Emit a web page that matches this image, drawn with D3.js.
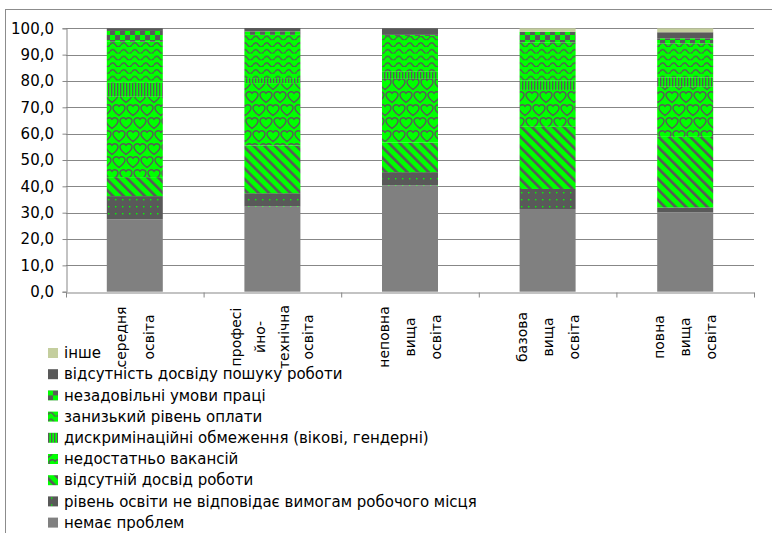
<!DOCTYPE html>
<html>
<head>
<meta charset="utf-8">
<script src="https://cdn.jsdelivr.net/npm/d3@7"></script>
<style>
  body { margin: 0; background: #fff; }
  svg { display: block; }
</style>
</head>
<body>
<div id="chart"></div>
<script>
// categories (x axis), label lines as in the original
const categories = ["середня освіта", "професійно-технічна освіта", "неповна вища освіта", "базова вища освіта", "повна вища освіта"];
const categoryLines = [
  ["середня", "освіта"],
  ["професі", "йно-", "технічна", "освіта"],
  ["неповна", "вища", "освіта"],
  ["базова", "вища", "освіта"],
  ["повна", "вища", "освіта"]
];

// series, bottom to top
const seriesNames = [
  "немає проблем",
  "рівень освіти не відповідає вимогам робочого місця",
  "відсутній досвід роботи",
  "недостатньо вакансій",
  "дискримінаційні обмеження (вікові, гендерні)",
  "занизький рівень оплати",
  "незадовільні умови праці",
  "відсутність досвіду пошуку роботи",
  "інше"
];

const noProblems     = [27.5, 32.3, 40.3, 31.4, 30.1];
const eduMismatch    = [8.8, 5.1, 5.1, 7.6, 1.9];
const noExperience   = [7.2, 18.1, 11.2, 23.6, 26.8];
const fewVacancies   = [30.5, 23.7, 24.2, 14.0, 19.0];
const discrimination = [5.3, 1.9, 2.7, 3.5, 3.6];
const lowPay         = [15.6, 16.4, 13.6, 14.6, 12.9];
const badConditions  = [4.1, 1.3, 0.4, 4.0, 1.9];
const noSearchSkills = [1.0, 1.3, 2.5, 0.0, 2.3];
const other          = [0.0, 0.0, 0.0, 1.3, 1.5];

const seriesValues = [noProblems, eduMismatch, noExperience, fewVacancies, discrimination, lowPay, badConditions, noSearchSkills, other];

const yTicks = [0, 10, 20, 30, 40, 50, 60, 70, 80, 90, 100];

const GREEN = "#00ff00", DARK = "#595959", GRAY = "#808080";

const width = 772, height = 533;
const svg = d3.select("#chart").append("svg")
  .attr("width", width)
  .attr("height", height);

// ---- patterns (Excel-like fills)
const defs = svg.append("defs");

function pattern(id, w, h, transform) {
  const p = defs.append("pattern")
    .attr("id", id)
    .attr("patternUnits", "userSpaceOnUse")
    .attr("width", w)
    .attr("height", h);
  if (transform) p.attr("patternTransform", transform);
  return p;
}

// small dots
let p = pattern("pDots", 7, 7);
p.append("rect").attr("width", 7).attr("height", 7).attr("fill", DARK);
p.append("rect").attr("x", 3).attr("y", 3).attr("width", 1.4).attr("height", 1.4).attr("fill", GREEN);

// wide downward diagonal
p = pattern("pDiag", 7.5, 7.5, "rotate(-45)");
p.append("rect").attr("width", 7.5).attr("height", 7.5).attr("fill", GREEN);
p.append("rect").attr("width", 2.6).attr("height", 7.5).attr("fill", DARK);

// hearts / shingles
p = pattern("pHearts", 14, 26);
p.append("rect").attr("width", 14).attr("height", 26).attr("fill", GREEN);
const heart = "M7,11.5 C3,8.5 1,6.5 1,4 C1,2 2.8,0.8 4.5,0.8 C6,0.8 7,2.3 7,2.3 C7,2.3 8,0.8 9.5,0.8 C11.2,0.8 13,2 13,4 C13,6.5 11,8.5 7,11.5 Z";
[[0, 0], [7, 13], [-7, 13]].forEach(([dx, dy]) => {
  p.append("path").attr("d", heart)
    .attr("transform", `translate(${dx},${dy})`)
    .attr("fill", "none").attr("stroke", DARK).attr("stroke-width", 1.4);
});

// vertical lines
p = pattern("pVert", 3, 3);
p.append("rect").attr("width", 3).attr("height", 3).attr("fill", GREEN);
p.append("rect").attr("width", 1.3).attr("height", 3).attr("fill", DARK);

// waves
p = pattern("pWave", 11, 6.7);
p.append("rect").attr("width", 11).attr("height", 6.7).attr("fill", GREEN);
p.append("path").attr("d", "M0,4.6 Q2.75,0.6 5.5,4.6 T11,4.6")
  .attr("fill", "none").attr("stroke", DARK).attr("stroke-width", 1.4);

// checker
p = pattern("pCheck", 10, 10);
p.append("rect").attr("width", 10).attr("height", 10).attr("fill", GREEN);
p.append("rect").attr("width", 5).attr("height", 5).attr("fill", DARK);
p.append("rect").attr("x", 5).attr("y", 5).attr("width", 5).attr("height", 5).attr("fill", DARK);

const fills = [GRAY, "url(#pDots)", "url(#pDiag)", "url(#pHearts)", "url(#pVert)", "url(#pWave)", "url(#pCheck)", DARK, "#c4ce9e"];

// ---- outer frame (right and bottom edges fall outside the picture)
svg.append("rect")
  .attr("x", 5.5).attr("y", 9.5)
  .attr("width", 780).attr("height", 560)
  .attr("fill", "none").attr("stroke", "#8c8c8c");

// ---- scales
const plotLeft = 66, plotRight = 754, plotTop = 28.3, plotBottom = 291.7;

const x = d3.scaleBand()
  .domain(categories)
  .range([plotLeft, plotRight])
  .paddingInner(0.593)
  .paddingOuter(0.2965);

const y = d3.scaleLinear()
  .domain([0, 100])
  .range([plotBottom, plotTop]);

// gridlines
svg.append("g")
  .selectAll("line")
  .data(yTicks.filter(d => d > 0))
  .join("line")
  .attr("x1", plotLeft).attr("x2", plotRight)
  .attr("y1", d => Math.round(y(d)) + 0.5)
  .attr("y2", d => Math.round(y(d)) + 0.5)
  .attr("stroke", "#878787");

// y axis
const yAxis = svg.append("g")
  .attr("transform", `translate(${plotLeft + 0.5},0)`)
  .call(d3.axisLeft(y).tickValues(yTicks)
    .tickFormat(d => d.toFixed(1).replace(".", ","))
    .tickSize(4).tickPadding(8.5));
yAxis.select(".domain").attr("stroke", "#878787");
yAxis.selectAll(".tick line").attr("stroke", "#878787");
yAxis.selectAll("text")
  .attr("fill", "#000")
  .style("font-family", "DejaVu Sans")
  .style("font-size", "15px");

// x axis with ticks between categories
const xb = d3.scaleLinear().domain([0, categories.length]).range([plotLeft, plotRight]);
const xAxis = svg.append("g")
  .attr("transform", `translate(0,${Math.round(plotBottom) + 0.5})`)
  .call(d3.axisBottom(xb).tickValues(d3.range(categories.length + 1))
    .tickFormat("").tickSize(5).tickSizeOuter(0));
xAxis.select(".domain").attr("stroke", "#878787");
xAxis.selectAll(".tick line").attr("stroke", "#878787");

// ---- stacked bars
const rows = categories.map((c, i) => {
  const r = { category: c };
  seriesNames.forEach((s, j) => { r[s] = seriesValues[j][i]; });
  return r;
});
const stacked = d3.stack().keys(seriesNames)(rows);

svg.append("g")
  .selectAll("g")
  .data(stacked)
  .join("g")
  .attr("fill", (d, i) => fills[i])
  .selectAll("rect")
  .data(d => d)
  .join("rect")
  .attr("x", d => x(d.data.category))
  .attr("y", d => y(d[1]))
  .attr("width", x.bandwidth())
  .attr("height", d => y(d[0]) - y(d[1]));

// x labels, rotated to read bottom-up, one column per line
const labelGroups = svg.append("g")
  .selectAll("g")
  .data(categories)
  .join("g")
  .attr("transform", c => `translate(${x(c) + x.bandwidth() / 2},337)`);

labelGroups.each(function (c, i) {
  const lines = categoryLines[i];
  const gap = lines.length === 2 ? 28 : (lines.length === 4 ? 24 : 26);
  d3.select(this).selectAll("text")
    .data(lines)
    .join("text")
    .attr("transform", (l, k) => `translate(${(k - (lines.length - 1) / 2) * gap},0) rotate(-90)`)
    .attr("text-anchor", "middle")
    .attr("dy", "0.35em")
    .style("font-family", "DejaVu Sans")
    .style("font-size", "14px")
    .attr("fill", "#000")
    .text(l => l);
});

// ---- legend (top = last series)
const legend = svg.append("g")
  .selectAll("g")
  .data(seriesNames.map((s, i) => ({ name: s, fill: fills[i] })).reverse())
  .join("g")
  .attr("transform", (d, i) => `translate(48,${353 + i * 21.2})`);

legend.append("rect")
  .attr("x", 0).attr("y", -5)
  .attr("width", 10).attr("height", 10)
  .attr("fill", d => d.fill);

legend.append("text")
  .attr("x", 16)
  .attr("dy", "0.35em")
  .style("font-family", "DejaVu Sans")
  .style("font-size", "15px")
  .attr("fill", "#000")
  .text(d => d.name);
</script>
</body>
</html>
